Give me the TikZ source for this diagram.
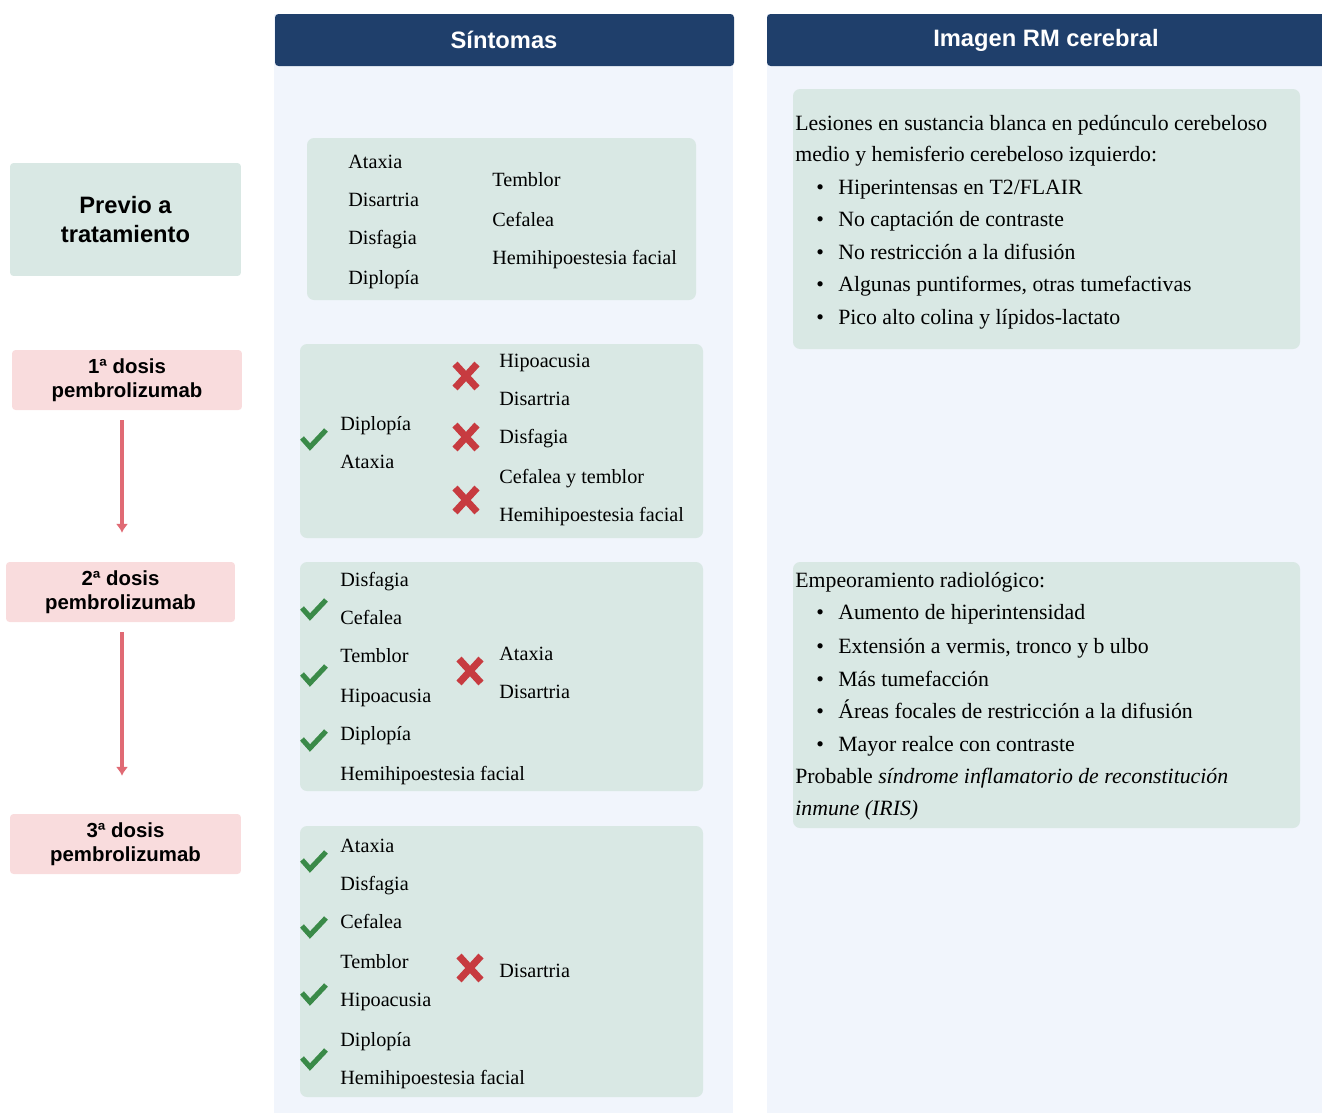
\documentclass[tikz,border=0pt]{standalone}
\usepackage{fontspec}
\setmainfont{Liberation Serif}
\setsansfont{Liberation Sans}
\usetikzlibrary{arrows.meta}

\definecolor{headblue}{HTML}{1F3F6B}
\definecolor{colbg}{HTML}{F1F5FC}
\definecolor{boxgreen}{HTML}{D9E8E4}
\definecolor{dosepink}{HTML}{F9DCDD}
\definecolor{okgreen}{HTML}{3A8A48}
\definecolor{nored}{HTML}{C73B40}
\definecolor{arrowred}{HTML}{E06A74}

\tikzset{
  stagebox/.style={fill=boxgreen, rounded corners=2pt, align=center, inner sep=0pt,
    font=\sffamily\bfseries\fontsize{13.5}{16}\selectfont},
  dosebox/.style={fill=dosepink, rounded corners=2pt, align=center, inner sep=0pt,
    minimum height=1.2cm, font=\sffamily\bfseries\fontsize{11.6}{13.7}\selectfont},
  headtxt/.style={text=white, font=\sffamily\bfseries\fontsize{13.5}{16}\selectfont},
  symp/.style={anchor=base west, inner sep=0pt, yshift=-0.12cm,
    font=\fontsize{11.5}{13}\selectfont},
  mri/.style={anchor=base west, inner sep=0pt, yshift=-0.12cm,
    font=\fontsize{12.4}{14}\selectfont},
  dosearrow/.style={arrowred, line width=2.2pt, -{Latex[length=5pt,width=7pt]}},
  okmark/.pic={\draw[okgreen, line width=2.9pt] (-12,-2) -- (-4,7) -- (12,-10);},
  nomark/.pic={\draw[nored, line width=4pt] (-11,-12) -- (11,12) (-11,12) -- (11,-12);}
}
\newcommand{\itm}{\makebox[12.5pt][l]{\textbullet}}

\begin{document}
\begin{tikzpicture}[x=0.02cm, y=-0.02cm]
  \useasboundingbox (0,0) rectangle (1322,1113);

  % columns and headers
  \fill[colbg] (274,14) rectangle (733,1113);
  \fill[colbg] (767,14) rectangle (1322,1113);
  \fill[headblue, rounded corners=2pt] (275,14) rectangle (734,66);
  \fill[headblue, rounded corners=2pt] (767,14) rectangle (1330,66);
  \node[headtxt] (hsint) at (504,40) {Síntomas};
  \node[headtxt] (hrm) at (1046,40) {Imagen RM cerebral};

  % stages
  \node[stagebox, minimum width=4.62cm, minimum height=2.26cm] (prev) at (125.5,219.5) {Previo a\\tratamiento};
  \node[dosebox, minimum width=4.6cm] (dose1) at (127,380) {1ª dosis\\pembrolizumab};
  \node[dosebox, minimum width=4.58cm] (dose2) at (120.5,592) {2ª dosis\\pembrolizumab};
  \node[dosebox, minimum width=4.62cm] (dose3) at (125.5,844) {3ª dosis\\pembrolizumab};

  \coordinate (axis) at (122,0);
  \draw[dosearrow, shorten <=0.2cm, shorten >=0.58cm] (dose1.south -| axis) -- (dose2.north -| axis);
  \draw[dosearrow, shorten <=0.2cm, shorten >=0.76cm] (dose2.south -| axis) -- (dose3.north -| axis);

  % symptom boxes
  \fill[boxgreen, rounded corners=4pt] (307,138) rectangle (696,300);
  \fill[boxgreen, rounded corners=4pt] (300,344) rectangle (703,538);
  \fill[boxgreen, rounded corners=4pt] (300,562) rectangle (703,791);
  \fill[boxgreen, rounded corners=4pt] (300,826) rectangle (703,1097);

  % before treatment
  \node[symp] (p0ata) at (348,162) {Ataxia};
  \node[symp] (p0dis) at (348,200) {Disartria};
  \node[symp] (p0dsf) at (348,238) {Disfagia};
  \node[symp] (p0dip) at (348,278) {Diplopía};
  \node[symp] (p0tem) at (492,180) {Temblor};
  \node[symp] (p0cef) at (492,220) {Cefalea};
  \node[symp] (p0hem) at (492,258) {Hemihipoestesia facial};

  % first dose
  \pic at (314,440) {okmark};
  \node[symp] (d1dip) at (340,424) {Diplopía};
  \node[symp] (d1ata) at (340,462) {Ataxia};
  \pic at (466,376) {nomark};
  \pic at (466,437) {nomark};
  \pic at (466,500) {nomark};
  \node[symp] (d1hip) at (499,361) {Hipoacusia};
  \node[symp] (d1dis) at (499,399) {Disartria};
  \node[symp] (d1dsf) at (499,437) {Disfagia};
  \node[symp] (d1cef) at (499,477) {Cefalea y temblor};
  \node[symp] (d1hem) at (499,515) {Hemihipoestesia facial};

  % second dose
  \pic at (314,610) {okmark};
  \pic at (314,676) {okmark};
  \pic at (314,741) {okmark};
  \node[symp] (d2dsf) at (340,580) {Disfagia};
  \node[symp] (d2cef) at (340,618) {Cefalea};
  \node[symp] (d2tem) at (340,656) {Temblor};
  \node[symp] (d2hip) at (340,696) {Hipoacusia};
  \node[symp] (d2dip) at (340,734) {Diplopía};
  \node[symp] (d2hem) at (340,774) {Hemihipoestesia facial};
  \pic at (470,671) {nomark};
  \node[symp] (d2ata) at (499,654) {Ataxia};
  \node[symp] (d2dis) at (499,692) {Disartria};

  % third dose
  \pic at (314,862) {okmark};
  \pic at (314,928) {okmark};
  \pic at (314,995) {okmark};
  \pic at (314,1060) {okmark};
  \node[symp] (d3ata) at (340,846) {Ataxia};
  \node[symp] (d3dsf) at (340,884) {Disfagia};
  \node[symp] (d3cef) at (340,922) {Cefalea};
  \node[symp] (d3tem) at (340,962) {Temblor};
  \node[symp] (d3hip) at (340,1000) {Hipoacusia};
  \node[symp] (d3dip) at (340,1040) {Diplopía};
  \node[symp] (d3hem) at (340,1078) {Hemihipoestesia facial};
  \pic at (470,968) {nomark};
  \node[symp] (d3dis) at (499,971) {Disartria};

  % MRI boxes
  \fill[boxgreen, rounded corners=4pt] (793,89) rectangle (1300,349);
  \fill[boxgreen, rounded corners=4pt] (793,562) rectangle (1300,828);

  \node[mri] (m1a) at (795,124) {Lesiones en sustancia blanca en pedúnculo cerebeloso};
  \node[mri] (m1b) at (795,155) {medio y hemisferio cerebeloso izquierdo:};
  \node[mri] (m1c) at (816,188) {\itm Hiperintensas en T2/FLAIR};
  \node[mri] (m1d) at (816,220) {\itm No captación de contraste};
  \node[mri] (m1e) at (816,253) {\itm No restricción a la difusión};
  \node[mri] (m1f) at (816,285) {\itm Algunas puntiformes, otras tumefactivas};
  \node[mri] (m1g) at (816,318) {\itm Pico alto colina y lípidos-lactato};

  \node[mri] (m2a) at (795,581) {Empeoramiento radiológico:};
  \node[mri] (m2b) at (816,613) {\itm Aumento de hiperintensidad};
  \node[mri] (m2c) at (816,647) {\itm Extensión a vermis, tronco y b ulbo};
  \node[mri] (m2d) at (816,680) {\itm Más tumefacción};
  \node[mri] (m2e) at (816,712) {\itm Áreas focales de restricción a la difusión};
  \node[mri] (m2f) at (816,745) {\itm Mayor realce con contraste};
  \node[mri] (m2g) at (795,777) {Probable \textit{síndrome inflamatorio de reconstitución}};
  \node[mri] (m2h) at (795,809) {\textit{inmune (IRIS)}};
\end{tikzpicture}
\end{document}
